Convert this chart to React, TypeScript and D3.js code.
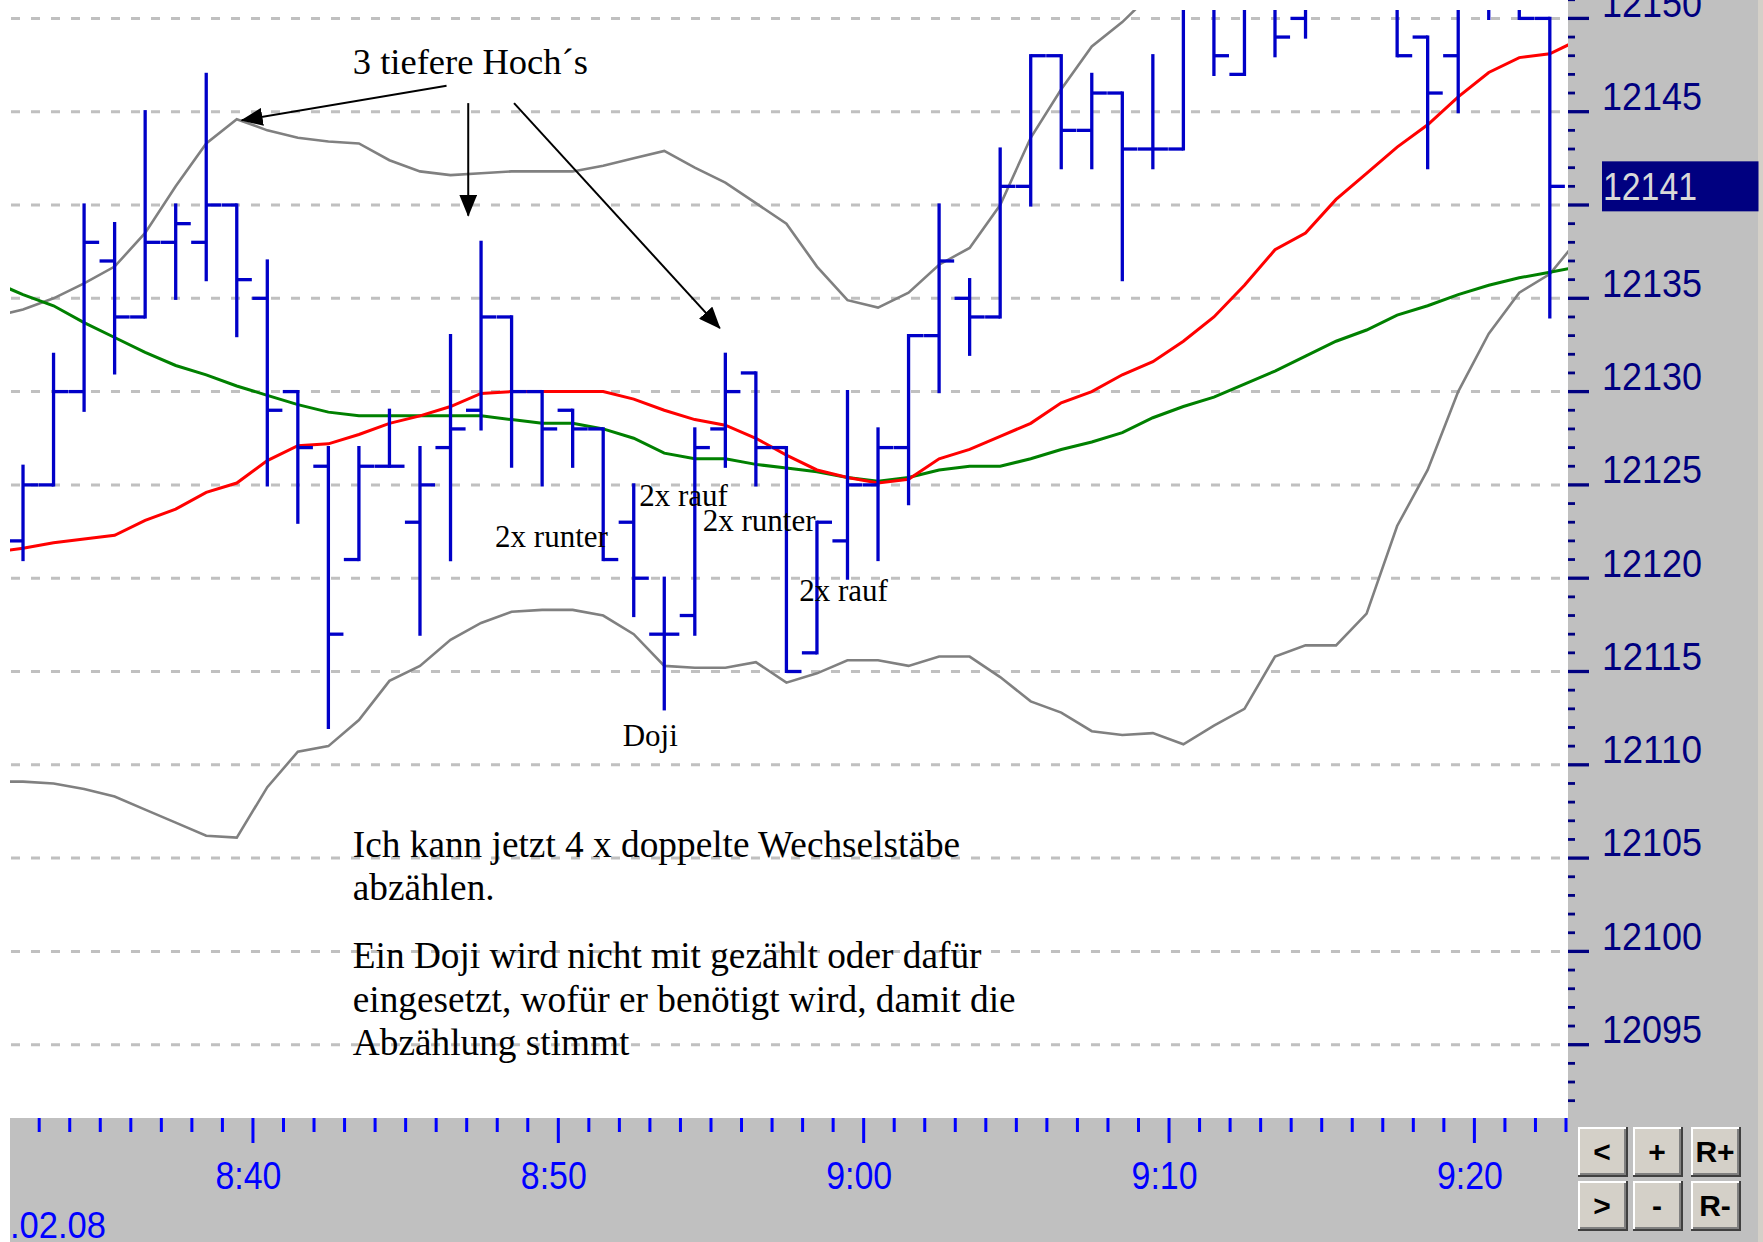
import React from "react"
import * as d3 from "d3"

// 1 minute bars, first one at 8:33
const firstBar = "8:33"
const opens = [12122, 12125, 12130, 12137, 12134, 12138, 12138, 12140, 12135, 12130, 12126, 12121, 12126, 12123, 12127, 12129, 12134, 12130, 12129, 12128, 12123, 12117, 12118, 12128, 12131, 12127, 12116, 12122, 12125, 12127, 12133, 12135, 12134, 12141, 12148, 12144, 12146, 12143, 12143, 12152, 12147, 12152, 12150, 12152, 12153, 12152, 12149, 12148, 12151, 12151, 12150]
const highs = [12126, 12132, 12140, 12139, 12145, 12140, 12147, 12140, 12137, 12130, 12127, 12127, 12129, 12127, 12133, 12138, 12134, 12130, 12129, 12128, 12125, 12120, 12128, 12132, 12131, 12127, 12123, 12130, 12128, 12133, 12140, 12136, 12143, 12148, 12148, 12147, 12146, 12148, 12153, 12153, 12152, 12153, 12153, 12155, 12156, 12153, 12149, 12152, 12153, 12152, 12150]
const lows = [12121, 12125, 12129, 12131, 12134, 12135, 12136, 12133, 12125, 12123, 12112, 12121, 12126, 12117, 12121, 12128, 12126, 12125, 12126, 12121, 12118, 12113, 12117, 12126, 12125, 12115, 12116, 12120, 12121, 12124, 12130, 12132, 12134, 12140, 12142, 12142, 12136, 12142, 12143, 12147, 12147, 12148, 12149, 12151, 12151, 12148, 12142, 12145, 12150, 12150, 12134]
const closes = [12125, 12130, 12138, 12134, 12138, 12139, 12140, 12136, 12129, 12127, 12117, 12126, 12126, 12125, 12128, 12134, 12130, 12128, 12128, 12121, 12120, 12117, 12127, 12130, 12127, 12115, 12123, 12125, 12127, 12133, 12137, 12134, 12141, 12148, 12144, 12146, 12143, 12143, 12151, 12148, 12151, 12149, 12152, 12153, 12152, 12148, 12146, 12151, 12151, 12150, 12141]

// indicators, one value per minute from 8:32 to 9:24
const bbUpper = [12134.0, 12134.4, 12135.0, 12135.8, 12136.7, 12138.5, 12141.0, 12143.3, 12144.6, 12144.0, 12143.6, 12143.4, 12143.3, 12142.4, 12141.8, 12141.6, 12141.7, 12141.8, 12141.8, 12141.8, 12142.1, 12142.5, 12142.9, 12142.0, 12141.2, 12140.1, 12139.0, 12136.7, 12134.9, 12134.5, 12135.3, 12136.8, 12137.7, 12140.0, 12143.6, 12146.2, 12148.5, 12149.8, 12151.4, 12153.0, 12154.5, 12156.0, 12157.2, 12158.2, 12159.0, 12159.6, 12160.0, 12160.2, 12160.3, 12160.2, 12160.0, 12159.6, 12159.2]
const bbLower = [12109.1, 12109.1, 12109.0, 12108.7, 12108.3, 12107.6, 12106.9, 12106.2, 12106.1, 12108.8, 12110.7, 12111.0, 12112.4, 12114.5, 12115.3, 12116.7, 12117.6, 12118.2, 12118.3, 12118.3, 12118.0, 12117.0, 12115.3, 12115.2, 12115.2, 12115.5, 12114.4, 12114.9, 12115.6, 12115.6, 12115.3, 12115.8, 12115.8, 12114.7, 12113.4, 12112.8, 12111.8, 12111.6, 12111.7, 12111.1, 12112.1, 12113.0, 12115.8, 12116.4, 12116.4, 12118.1, 12122.8, 12125.8, 12130.0, 12133.1, 12135.3, 12136.3, 12138.3]
const maFast = [12121.4, 12121.6, 12121.9, 12122.1, 12122.3, 12123.1, 12123.7, 12124.6, 12125.1, 12126.3, 12127.1, 12127.2, 12127.7, 12128.3, 12128.7, 12129.2, 12129.9, 12130.0, 12130.0, 12130.0, 12130.0, 12129.6, 12129.0, 12128.5, 12128.2, 12127.5, 12126.6, 12125.8, 12125.4, 12125.1, 12125.3, 12126.4, 12126.9, 12127.6, 12128.3, 12129.4, 12130.0, 12130.9, 12131.6, 12132.7, 12134.0, 12135.7, 12137.6, 12138.5, 12140.3, 12141.7, 12143.1, 12144.3, 12145.8, 12147.1, 12147.9, 12148.1, 12148.9]
const maSlow = [12135.9, 12135.2, 12134.6, 12133.7, 12132.9, 12132.1, 12131.4, 12130.9, 12130.3, 12129.8, 12129.3, 12128.9, 12128.7, 12128.7, 12128.7, 12128.7, 12128.7, 12128.5, 12128.3, 12128.3, 12128.0, 12127.5, 12126.7, 12126.4, 12126.4, 12126.1, 12125.9, 12125.7, 12125.4, 12125.2, 12125.4, 12125.8, 12126.0, 12126.0, 12126.4, 12126.9, 12127.3, 12127.8, 12128.6, 12129.2, 12129.7, 12130.4, 12131.1, 12131.9, 12132.7, 12133.3, 12134.1, 12134.6, 12135.2, 12135.7, 12136.1, 12136.4, 12136.7]

const priceLabels = [12095, 12100, 12105, 12110, 12115, 12120, 12125, 12130, 12135, 12140, 12145, 12150]
const timeLabels = ["8:40", "8:50", "9:00", "9:10", "9:20"]
const dateLabel = ".02.08"
const buttonLabels = [["<", "+", "R+"], [">", "-", "R-"]]

// annotations, placed at bar index / price
const notes = [
  { text: "3 tiefere Hoch´s", i: 10.8, p: 12147.02, size: 36.5 },
  { text: "2x runter", i: 15.46, p: 12121.69, size: 31 },
  { text: "2x rauf", i: 20.18, p: 12123.87, size: 31 },
  { text: "2x runter", i: 22.26, p: 12122.55, size: 31 },
  { text: "2x rauf", i: 25.42, p: 12118.8, size: 31 },
  { text: "Doji", i: 19.64, p: 12111.03, size: 31 },
]
const arrows = [
  { from: [13.87, 12146.39], to: [7.16, 12144.54] },
  { from: [14.58, 12145.46], to: [14.58, 12139.43] },
  { from: [16.08, 12145.46], to: [22.82, 12133.4] },
]
const commentParagraphs = [
  ["Ich kann jetzt 4 x doppelte Wechselstäbe", "abzählen."],
  ["Ein Doji wird nicht mit gezählt oder dafür", "eingesetzt, wofür er benötigt wird, damit die", "Abzählung stimmt"],
]

const toMin = (s: string) => {
  const [h, m] = s.split(":").map(Number)
  return h * 60 + m
}

export default function App() {
  const W = 1763
  const H = 1242
  const plot = { left: 10, right: 1568, top: 10, bottom: 1118 }
  const t0 = toMin(firstBar)
  const n = opens.length

  const x = d3.scaleLinear().domain([t0, t0 + n - 1]).range([39.2, 1566])
  const y = d3.scaleLinear().domain([12095, 12150]).range([1044.7, 18.4])
  const barShift = 0.53
  const bx = (i: number) => x(t0 + i - barShift)
  const half = (x(t0 + 1) - x(t0)) / 2 - 0.2

  const line = d3
    .line<number>()
    .x((_, i) => bx(i - 1))
    .y(v => y(v))

  const minorPrices = d3.range(12092, 12152)
  const minutes = d3.range(t0, t0 + n)
  const last = closes[n - 1]
  const serif = "'Liberation Serif', 'Times New Roman', serif"
  const sans = "'Liberation Sans', Arial, sans-serif"

  // the last-price box hides the axis label it sits on
  const boxTop = y(last) - 25
  const boxBottom = y(last) + 25
  const shownLabels = priceLabels.filter(p => {
    const top = y(p) - 30
    const bottom = y(p)
    return bottom < boxTop || top > boxBottom
  })

  // comment block: line height and paragraph gap
  const lineH = 43.5
  const paraGap = 68.3
  const commentX = bx(10.8)
  const commentY = y(12105.08)
  const commentRows: { t: string; dy: number }[] = []
  let off = 0
  commentParagraphs.forEach((para, pi) => {
    if (pi > 0) off += paraGap - lineH
    para.forEach(t => {
      commentRows.push({ t, dy: off })
      off += lineH
    })
  })

  return (
    <div style={{ position: "absolute", left: 0, top: 0 }}>
      <svg width={W} height={H} style={{ display: "block", background: "white" }}>
        <defs>
          <clipPath id="plotClip">
            <rect x={plot.left} y={plot.top} width={plot.right - plot.left} height={plot.bottom - plot.top} />
          </clipPath>
          <marker id="head" markerUnits="userSpaceOnUse" markerWidth="22" markerHeight="18" refX="21" refY="9" orient="auto">
            <path d="M0,0 L22,9 L0,18 Z" fill="black" />
          </marker>
        </defs>

        {/* grid */}
        <g>
          {priceLabels.map(p => (
            <line key={p} x1={plot.left + 1} x2={plot.right} y1={y(p)} y2={y(p)}
              stroke="#c0c0c0" strokeWidth={3} strokeDasharray="9 11" />
          ))}
        </g>

        <g clipPath="url(#plotClip)">
          {/* bollinger bands */}
          <path d={line(bbUpper) || ""} fill="none" stroke="#808080" strokeWidth={2.6} />
          <path d={line(bbLower) || ""} fill="none" stroke="#808080" strokeWidth={2.6} />
          {/* moving averages */}
          <path d={line(maSlow) || ""} fill="none" stroke="#008000" strokeWidth={3} />
          <path d={line(maFast) || ""} fill="none" stroke="#ff0000" strokeWidth={3} />

          {/* OHLC bars */}
          <g stroke="#0000c8" strokeWidth={3.3}>
            {opens.map((o, i) => {
              const cx = bx(i)
              return (
                <g key={i}>
                  <line x1={cx} x2={cx} y1={y(highs[i]) - 1.6} y2={y(lows[i]) + 1.6} />
                  <line x1={cx - half} x2={cx} y1={y(o)} y2={y(o)} />
                  <line x1={cx} x2={cx + half} y1={y(closes[i])} y2={y(closes[i])} />
                </g>
              )
            })}
          </g>

          {/* annotations */}
          <g fontFamily={serif} fill="black">
            {notes.map((d, k) => (
              <text key={k} x={bx(d.i)} y={y(d.p)} fontSize={d.size}>{d.text}</text>
            ))}
            {commentRows.map((r, k) => (
              <text key={"c" + k} x={commentX} y={commentY + r.dy} fontSize={37.3}>{r.t}</text>
            ))}
          </g>
          <g stroke="black" strokeWidth={2}>
            {arrows.map((a, k) => (
              <line key={k} x1={bx(a.from[0])} y1={y(a.from[1])} x2={bx(a.to[0])} y2={y(a.to[1])} markerEnd="url(#head)" />
            ))}
          </g>
        </g>

        {/* right price panel */}
        <rect x={plot.right} y={0} width={W - plot.right} height={H} fill="#c0c0c0" />
        <rect x={1758} y={0} width={5} height={H} fill="#d4d0c8" />
        <g stroke="#000080">
          {minorPrices.map(p => (
            <line key={p} x1={plot.right} x2={p % 5 === 0 ? plot.right + 21 : plot.right + 7}
              y1={y(p)} y2={y(p)} strokeWidth={p % 5 === 0 ? 3.3 : 2.8} />
          ))}
        </g>
        <g fill="#000080" fontFamily={sans} fontSize={38}>
          {shownLabels.map(p => (
            <text key={p} x={1602} y={y(p) - 1.7} textLength={100} lengthAdjust="spacingAndGlyphs">{p}</text>
          ))}
        </g>
        <rect x={1602} y={boxTop} width={156.5} height={50} fill="#000080" />
        <text x={1603} y={y(last) + 13.2} fill="#d8d8d8" fontFamily={sans} fontSize={38}
          textLength={94} lengthAdjust="spacingAndGlyphs">{last}</text>

        {/* time axis */}
        <rect x={plot.left} y={plot.bottom} width={plot.right - plot.left} height={H - plot.bottom} fill="#c0c0c0" />
        <g stroke="#0000ff" strokeWidth={3}>
          {minutes.map(m => (
            <line key={m} x1={x(m)} x2={x(m)} y1={plot.bottom} y2={m % 10 === 0 ? plot.bottom + 25 : plot.bottom + 14} />
          ))}
        </g>
        <g fill="#0000ff" fontFamily={sans} fontSize={39} textAnchor="middle">
          {timeLabels.map(s => (
            <text key={s} x={x(toMin(s)) - 4.5} y={1189} textLength={66} lengthAdjust="spacingAndGlyphs">{s}</text>
          ))}
        </g>
        <text x={plot.left} y={1238} fill="#0000ff" fontFamily={sans} fontSize={36}
          textLength={96} lengthAdjust="spacingAndGlyphs">{dateLabel}</text>

        {/* buttons */}
        <g>
          {buttonLabels.map((row, r) =>
            row.map((lab, c) => {
              const bxp = [1578, 1633, 1691][c]
              const byp = 1127 + r * 54
              return (
                <g key={lab}>
                  <rect x={bxp} y={byp} width={50} height={50} fill="#404040" />
                  <rect x={bxp} y={byp} width={48} height={48} fill="#ffffff" />
                  <rect x={bxp + 2} y={byp + 2} width={46} height={46} fill="#808080" />
                  <rect x={bxp + 2} y={byp + 2} width={44} height={44} fill="#d4d0c8" />
                  <text x={bxp + 24} y={byp + 35} textAnchor="middle" fontFamily={sans}
                    fontWeight="bold" fontSize={30} fill="black">{lab}</text>
                </g>
              )
            })
          )}
        </g>
      </svg>
    </div>
  )
}
